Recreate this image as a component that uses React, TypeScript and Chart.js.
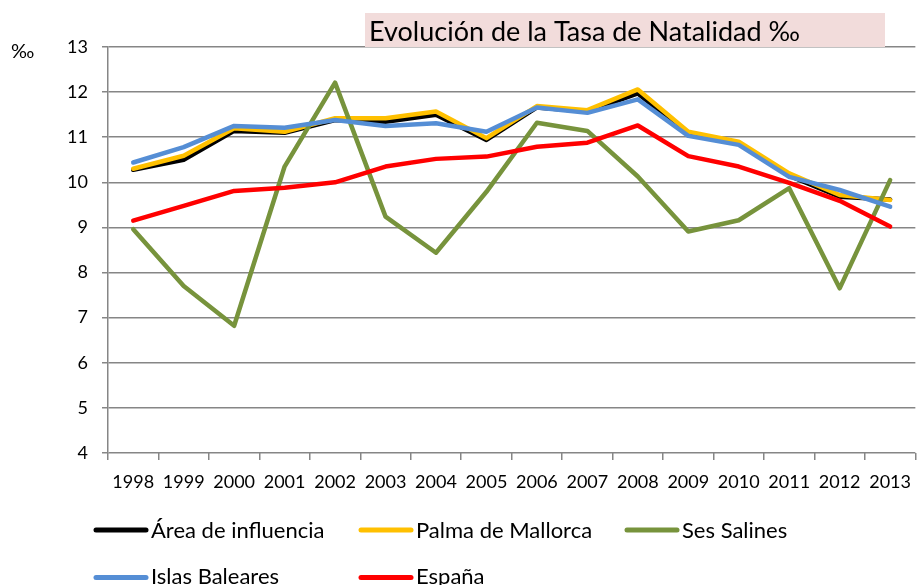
import React, { useEffect, useRef } from 'react';
import { Chart, registerables } from 'chart.js';

Chart.register(...registerables);

const years = ['1998', '1999', '2000', '2001', '2002', '2003', '2004', '2005', '2006', '2007', '2008', '2009', '2010', '2011', '2012', '2013'];
const areaInfluencia = [10.28, 10.5, 11.14, 11.1, 11.38, 11.34, 11.5, 10.94, 11.66, 11.57, 11.97, 11.07, 10.86, 10.15, 9.68, 9.62];
const palmaMallorca = [10.3, 10.59, 11.2, 11.12, 11.42, 11.42, 11.57, 10.98, 11.69, 11.6, 12.06, 11.12, 10.9, 10.2, 9.72, 9.61];
const sesSalines = [8.96, 7.7, 6.82, 10.35, 12.21, 9.24, 8.44, 9.79, 11.32, 11.14, 10.13, 8.91, 9.16, 9.87, 7.65, 10.05];
const islasBaleares = [10.44, 10.78, 11.25, 11.21, 11.38, 11.25, 11.31, 11.12, 11.66, 11.54, 11.84, 11.03, 10.83, 10.12, 9.83, 9.46];
const espana = [9.15, 9.48, 9.81, 9.88, 10.0, 10.35, 10.52, 10.57, 10.79, 10.88, 11.26, 10.58, 10.35, 9.99, 9.59, 9.02];

const seriesLabels = ['Área de influencia', 'Palma de Mallorca', 'Ses Salines', 'Islas Baleares', 'España'];
const seriesColors = ['#000000', '#FFC000', '#77933C', '#558ED5', '#FF0000'];
const titleText = 'Evolución de la Tasa de Natalidad ‰';
const unitText = '‰';

const FONT = 'Lato, "Noto Sans", sans-serif';

const decorPlugin = {
  id: 'decor',
  afterDraw(chart: any) {
    const ctx = chart.ctx as CanvasRenderingContext2D;
    ctx.save();
    // title box
    ctx.fillStyle = '#F2DCDB';
    ctx.fillRect(365, 13, 520, 34);
    ctx.fillStyle = '#000';
    ctx.font = `27px ${FONT}`;
    ctx.textBaseline = 'alphabetic';
    ctx.textAlign = 'left';
    ctx.fillText(titleText, 369, 41);
    // unit
    ctx.font = `20px ${FONT}`;
    ctx.fillText(unitText, 11, 58);
    // legend
    const cols = [94, 359, 625];
    const lineRows = [530, 577.5];
    const textRows = [537.5, 584];
    chart.data.datasets.forEach((ds: any, i: number) => {
      const cx = cols[i % 3];
      const r = Math.floor(i / 3);
      const cy = lineRows[r];
      ctx.strokeStyle = ds.borderColor;
      ctx.lineWidth = 5;
      ctx.lineCap = 'round';
      ctx.beginPath();
      ctx.moveTo(cx + 2, cy);
      ctx.lineTo(cx + 52, cy);
      ctx.stroke();
      ctx.fillStyle = '#000';
      ctx.font = `22px ${FONT}`;
      ctx.fillText(ds.label, cx + 57, textRows[r]);
    });
    ctx.restore();
  },
};

export default function App() {
  const ref = useRef<HTMLCanvasElement>(null);
  useEffect(() => {
    if (!ref.current) return;
    const seriesData = [areaInfluencia, palmaMallorca, sesSalines, islasBaleares, espana];
    const chart = new Chart(ref.current, {
      type: 'line',
      data: {
        labels: years,
        datasets: seriesData.map((d, i) => ({
          label: seriesLabels[i],
          data: d,
          borderColor: seriesColors[i],
          backgroundColor: seriesColors[i],
          borderWidth: 4.5,
          pointRadius: 0,
          tension: 0,
          borderJoinStyle: 'round' as const,
          borderCapStyle: 'round' as const,
          order: 5 - i,
        })),
      },
      options: {
        responsive: false,
        animation: false,
        events: [],
        layout: { padding: { top: 47, right: 0, bottom: 0, left: 0 } },
        plugins: {
          legend: { display: false },
          title: { display: false },
          tooltip: { enabled: false },
        },
        scales: {
          x: {
            offset: true,
            grid: {
              drawOnChartArea: false,
              drawTicks: true,
              tickLength: 7,
              color: '#868686',
              lineWidth: 1.5,
              offset: true,
            },
            border: { display: false },
            ticks: {
              color: '#000',
              font: { family: FONT, size: 18 },
              padding: 11,
              maxRotation: 0,
              autoSkip: false,
            },
            afterFit: (s: any) => {
              s.height = 132;
            },
          },
          y: {
            min: 4,
            max: 13,
            grid: {
              color: '#868686',
              lineWidth: 1.5,
              tickLength: 6,
            },
            border: { display: true, color: '#868686', width: 1.5 },
            ticks: {
              stepSize: 1,
              color: '#000',
              font: { family: FONT, size: 18 },
              padding: 14,
            },
            afterFit: (s: any) => {
              s.width = 108;
            },
          },
        },
      },
      plugins: [decorPlugin],
    });
    return () => chart.destroy();
  }, []);
  return (
    <div style={{ position: 'absolute', left: 0, top: 0, width: 922, height: 585, background: '#fff' }}>
      <canvas ref={ref} width={922} height={585} />
    </div>
  );
}
